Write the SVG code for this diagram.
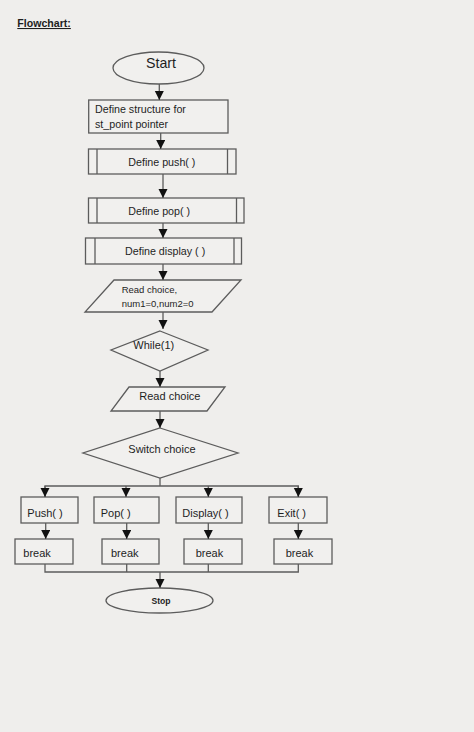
<svg xmlns="http://www.w3.org/2000/svg" width="474" height="732" viewBox="0 0 474 732">
<style>
.shape{fill:#f1f0ee;stroke:#5c5c5c;stroke-width:1.3}
.line{fill:none;stroke:#5c5c5c;stroke-width:1.3}
text{font-family:"Liberation Sans",Arial,sans-serif;fill:#1e1e1e}
.t11{font-size:11px}
.t105{font-size:10.7px}
.t95{font-size:9.5px}
</style>
<defs>
<marker id="arr" markerUnits="userSpaceOnUse" markerWidth="10" markerHeight="10" refX="9" refY="4.5" orient="auto">
<path d="M0,0 L9,4.5 L0,9 Z" fill="#111"/>
</marker>
</defs>
<rect x="0" y="0" width="474" height="732" fill="#efeeec"/>
<g id="title">
<text x="17.3" y="27" font-size="10.6" font-weight="bold" text-decoration="underline">Flowchart:</text>
</g>
<g id="start">
<ellipse class="shape" cx="158.5" cy="68" rx="45.5" ry="16"/>
<text x="146" y="68" font-size="14.2">Start</text>
</g>
<g id="define-structure">
<rect class="shape" x="88.7" y="100" width="139.3" height="33"/>
<text class="t105" x="95" y="113.3">Define structure for</text>
<text class="t105" x="95" y="127.5">st_point pointer</text>
</g>
<g id="define-push">
<rect class="shape" x="88.5" y="149" width="147.5" height="25"/>
<line class="line" x1="97" y1="149" x2="97" y2="174"/>
<line class="line" x1="227.5" y1="149" x2="227.5" y2="174"/>
<text class="t105" x="128.3" y="166">Define push( )</text>
</g>
<g id="define-pop">
<rect class="shape" x="88.5" y="198" width="155.5" height="25"/>
<line class="line" x1="97" y1="198" x2="97" y2="223"/>
<line class="line" x1="236.5" y1="198" x2="236.5" y2="223"/>
<text class="t105" x="128.3" y="215">Define pop( )</text>
</g>
<g id="define-display">
<rect class="shape" x="85.5" y="238" width="156" height="26"/>
<line class="line" x1="95" y1="238" x2="95" y2="264"/>
<line class="line" x1="234" y1="238" x2="234" y2="264"/>
<text class="t105" x="125" y="255">Define display ( )</text>
</g>
<g id="read-init">
<polygon class="shape" points="114,280 241,280 212,312 85,312"/>
<text class="t95" x="121.7" y="292.7">Read choice,</text>
<text class="t95" x="121.7" y="306.7">num1=0,num2=0</text>
</g>
<g id="while">
<polygon class="shape" points="160,331 208,350 160,371 111,350"/>
<text class="t11" x="133.3" y="349">While(1)</text>
</g>
<g id="read-choice">
<polygon class="shape" points="129,387 225,387 207,411 111,411"/>
<text class="t11" x="139.3" y="400">Read choice</text>
</g>
<g id="switch">
<polygon class="shape" points="160,428 238,453 160,478 83,453"/>
<text class="t11" x="128.3" y="453.3">Switch choice</text>
</g>
<g id="push">
<rect class="shape" x="21" y="497" width="57" height="26"/>
<text class="t11" x="27.3" y="516.7">Push( )</text>
</g>
<g id="pop">
<rect class="shape" x="94" y="497" width="65" height="26"/>
<text class="t11" x="100.7" y="516.7">Pop( )</text>
</g>
<g id="display">
<rect class="shape" x="176" y="497" width="66" height="26"/>
<text class="t11" x="182.3" y="516.7">Display( )</text>
</g>
<g id="exit">
<rect class="shape" x="269" y="497" width="58" height="26"/>
<text class="t11" x="277.3" y="516.7">Exit( )</text>
</g>
<g id="break1">
<rect class="shape" x="15" y="539" width="58" height="25"/>
<text class="t11" x="23.3" y="556.5">break</text>
</g>
<g id="break2">
<rect class="shape" x="102" y="539" width="57" height="25"/>
<text class="t11" x="111" y="556.5">break</text>
</g>
<g id="break3">
<rect class="shape" x="184" y="539" width="58" height="25"/>
<text class="t11" x="195.7" y="556.5">break</text>
</g>
<g id="break4">
<rect class="shape" x="274" y="539" width="58" height="25"/>
<text class="t11" x="285.7" y="556.5">break</text>
</g>
<g id="stop">
<ellipse class="shape" cx="159.5" cy="600.5" rx="53.5" ry="12.5"/>
<text x="161" y="604" font-size="8.6" font-weight="bold" text-anchor="middle">Stop</text>
</g>
<g id="connectors">
<line class="line" x1="159.3" y1="84" x2="159.3" y2="100" marker-end="url(#arr)"/>
<line class="line" x1="160.7" y1="133" x2="160.7" y2="149" marker-end="url(#arr)"/>
<line class="line" x1="163" y1="174" x2="163" y2="198" marker-end="url(#arr)"/>
<line class="line" x1="163" y1="223" x2="163" y2="238" marker-end="url(#arr)"/>
<line class="line" x1="163" y1="264" x2="163" y2="280" marker-end="url(#arr)"/>
<line class="line" x1="163" y1="312" x2="163" y2="329" marker-end="url(#arr)"/>
<line class="line" x1="160" y1="371" x2="160" y2="387" marker-end="url(#arr)"/>
<line class="line" x1="160" y1="411" x2="160" y2="428" marker-end="url(#arr)"/>
<polyline class="line" points="160,478 160,486"/>
<polyline class="line" points="45,497 45,486 298.3,486 298.3,497"/>
<line class="line" x1="45" y1="486" x2="45" y2="497" marker-end="url(#arr)"/>
<line class="line" x1="126" y1="486" x2="126" y2="497" marker-end="url(#arr)"/>
<line class="line" x1="208.3" y1="486" x2="208.3" y2="497" marker-end="url(#arr)"/>
<line class="line" x1="298.3" y1="486" x2="298.3" y2="497" marker-end="url(#arr)"/>
<line class="line" x1="45.7" y1="523" x2="45.7" y2="539" marker-end="url(#arr)"/>
<line class="line" x1="126.7" y1="523" x2="126.7" y2="539" marker-end="url(#arr)"/>
<line class="line" x1="208.3" y1="523" x2="208.3" y2="539" marker-end="url(#arr)"/>
<line class="line" x1="298.3" y1="523" x2="298.3" y2="539" marker-end="url(#arr)"/>
<polyline class="line" points="45,564 45,572 298.3,572 298.3,564"/>
<line class="line" x1="126.7" y1="564" x2="126.7" y2="572"/>
<line class="line" x1="208.3" y1="564" x2="208.3" y2="572"/>
<line class="line" x1="160" y1="572" x2="160" y2="588" marker-end="url(#arr)"/>
</g>
</svg>
